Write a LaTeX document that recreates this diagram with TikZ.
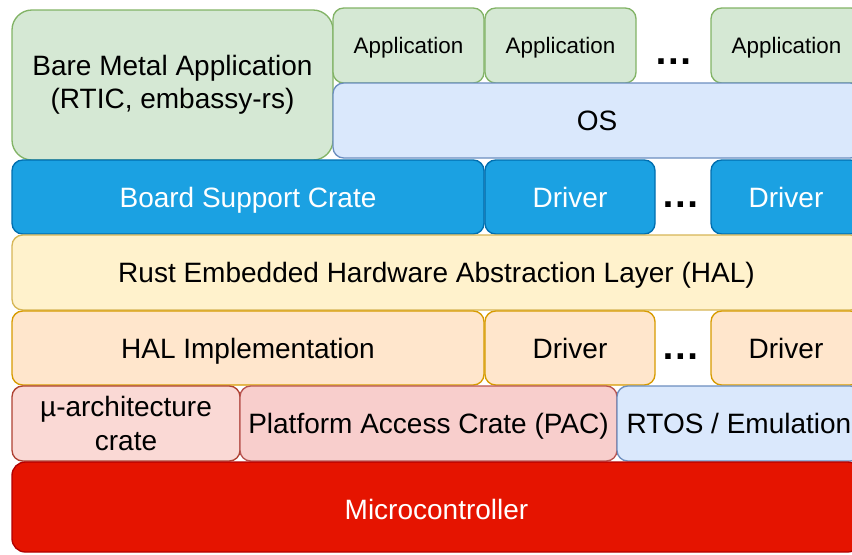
\documentclass[tikz,border=0pt]{standalone}
\usepackage{fontspec}
\setmainfont{Liberation Sans}
\definecolor{gfill}{HTML}{D5E8D4}\definecolor{gdraw}{HTML}{82B366}
\definecolor{bfill}{HTML}{DAE8FC}\definecolor{bdraw}{HTML}{6C8EBF}
\definecolor{dfill}{HTML}{1BA1E2}\definecolor{ddraw}{HTML}{006EAF}
\definecolor{yfill}{HTML}{FFF2CC}\definecolor{ydraw}{HTML}{D6B656}
\definecolor{ofill}{HTML}{FFE6CC}\definecolor{odraw}{HTML}{D79B00}
\definecolor{pfill}{HTML}{F8CECC}\definecolor{pdraw}{HTML}{B85450}
\definecolor{qfill}{HTML}{FAD9D5}\definecolor{qdraw}{HTML}{AE4132}
\definecolor{mfill}{HTML}{E51400}\definecolor{mdraw}{HTML}{B20000}
\tikzset{
  lay/.style 2 args={rectangle, inner sep=0pt, line width=1pt,
    minimum width=#1*0.75pt, minimum height=#2*0.75pt,
    rounded corners=8pt, align=center,
    font=\fontsize{21}{25}\selectfont},
  one/.style={text height=15pt, text depth=0pt},
  green/.style={fill=gfill, draw=gdraw},
  lblue/.style={fill=bfill, draw=bdraw},
  dblue/.style={fill=dfill, draw=ddraw, text=white},
  yel/.style={fill=yfill, draw=ydraw},
  ora/.style={fill=ofill, draw=odraw},
  pink/.style={fill=pfill, draw=pdraw},
  lpink/.style={fill=qfill, draw=qdraw},
  mcu/.style={fill=mfill, draw=mdraw, text=white},
  small/.style={font=\fontsize{16.8}{20}\selectfont, text height=12pt, text depth=0pt},
  dots/.style={inner sep=0pt, anchor=base, font=\fontsize{29}{30}\selectfont\bfseries},
}
\begin{document}
\begin{tikzpicture}[x=0.75pt,y=-0.75pt]
\useasboundingbox (0,0) rectangle (852,554);
\clip (0,0) rectangle (852,554);
% top row
\node[lay={321}{150}, green, rounded corners=15pt] (bare) at (172.5,85) {Bare Metal Application\\(RTIC, embassy-rs)};
\node[lay={151}{75}, green, small] (app1) at (408.5,45.5) {Application};
\node[lay={151}{75}, green, small] (app2) at (560.5,45.5) {Application};
\node[dots] (dA) at (673.5,64) {…};
\node[lay={151}{75}, green, small] (app3) at (786.5,45.5) {Application};
\node[lay={528}{75}, lblue, one] (os) at (597,120.5) {OS};
% board support row
\node[lay={472}{74}, dblue, one] (bsc) at (248,197) {Board Support Crate};
\node[lay={170}{74}, dblue, one] (drv1) at (570,197) {Driver};
\node[dots] (dB) at (680.5,207) {…};
\node[lay={150}{74}, dblue, one] (drv2) at (786,197) {Driver};
% HAL
\node[lay={849}{75}, yel, one] (hal) at (436.5,272.5) {Rust Embedded Hardware Abstraction Layer (HAL)};
% HAL impl row
\node[lay={472}{74}, ora, one] (halimpl) at (248,348) {HAL Implementation};
\node[lay={170}{74}, ora, one] (drv3) at (570,348) {Driver};
\node[dots] (dC) at (680.5,359) {…};
\node[lay={150}{74}, ora, one] (drv4) at (786,348) {Driver};
% PAC row
\node[lay={228}{75}, lpink] (uarch) at (126,423.5) {µ-architecture\\crate};
\node[lay={377}{75}, pink, one] (pac) at (428.5,423.5) {Platform Access Crate (PAC)};
\node[lay={244}{75}, lblue, one] (rtos) at (739,423.5) {RTOS / Emulation};
% MCU
\node[lay={849}{90}, mcu, rounded corners=10pt, text height=15pt, text depth=0pt] (mc) at (436.5,507) {};
\node[font=\fontsize{21}{25}\selectfont, text=white, text height=15pt, text depth=0pt, inner sep=0pt] (mct) at (436.5,509) {Microcontroller};
\end{tikzpicture}
\end{document}
